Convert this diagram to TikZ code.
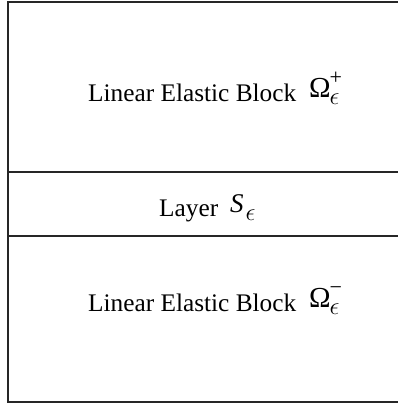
\documentclass[tikz,border=0pt]{standalone}
\usepackage{fontspec}
\setmainfont{Liberation Serif}
\newcommand{\omegascr}[1]{%
  \raisebox{4pt}{\fontsize{29}{30}\selectfont Ω}\kern-1pt%
  \rlap{\raisebox{16.5pt}{\fontsize{22}{24}\selectfont #1}}%
  \raisebox{-3pt}{\fontsize{24}{26}\selectfont$\epsilon$}\hspace{6pt}}
\begin{document}
\begin{tikzpicture}[x=1pt,y=-1pt,
  edge/.style={line width=1.2pt,draw=black!85},
  lbl/.style={anchor=base west,inner sep=0pt,font=\fontsize{25.3}{28}\selectfont}]
\useasboundingbox (0,0) rectangle (398,407);
\coordinate (tl) at (8,2);
\coordinate (tr) at (400,2);
\coordinate (bl) at (8,402);
\coordinate (br) at (400,402);
\coordinate (m1l) at (8,172);
\coordinate (m1r) at (400,172);
\coordinate (m2l) at (8,236);
\coordinate (m2r) at (400,236);
\draw[edge] (tr) -- (tl) -- (bl) -- (br);
\draw[edge] (m1l) -- (m1r);
\draw[edge] (m2l) -- (m2r);
\node[lbl] (top) at (88,101) {Linear Elastic Block\hspace{13pt}\omegascr{+}};
\node[lbl] (mid) at (159,216) {Layer\hspace{12pt}\raisebox{4pt}{\fontsize{27}{30}\selectfont\itshape S}\kern2pt\raisebox{-4pt}{\fontsize{24}{26}\selectfont$\epsilon$}};
\node[lbl] (bot) at (88,311) {Linear Elastic Block\hspace{13pt}\omegascr{−}};
\end{tikzpicture}
\end{document}
